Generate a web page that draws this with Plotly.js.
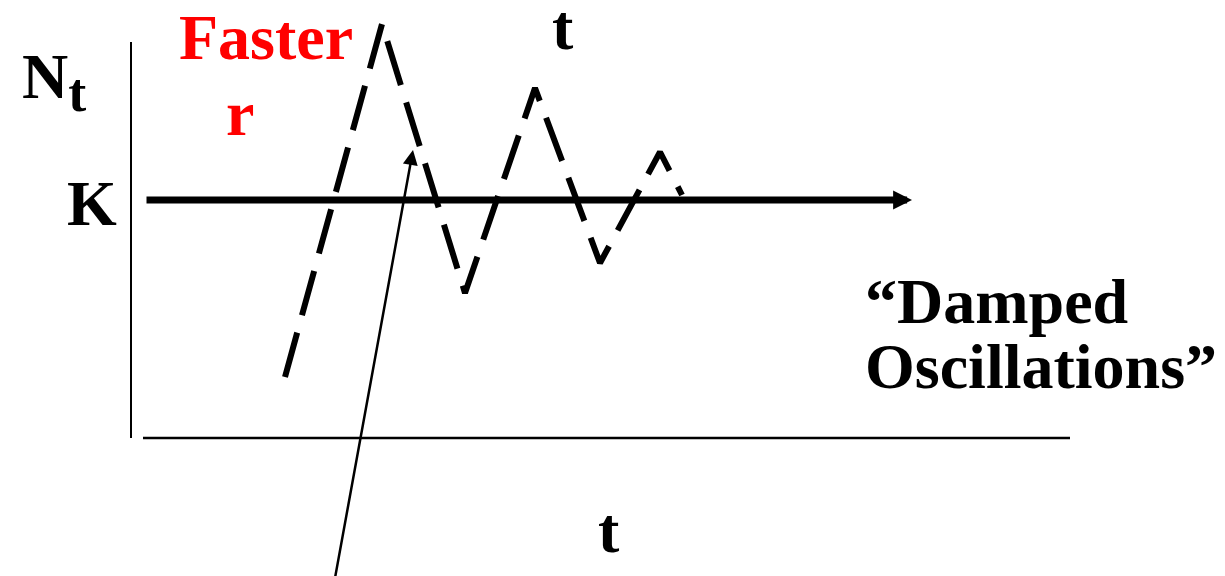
<!DOCTYPE html>
<html>
<head>
<meta charset="utf-8">
<script src="https://cdn.plot.ly/plotly-3.0.1.min.js"></script>
<style>
html,body{margin:0;padding:0;background:#fff;}
#chart{width:1225px;height:576px;}
</style>
</head>
<body>
<div id="chart"></div>
<script>
// Damped oscillation path (time t, population N), in chart units
var tValues = [285, 382, 465, 535, 600, 660, 682];
var nValues = [199, 552, 283, 488, 313, 424, 381];
// Carrying capacity K and its arrow extent
var kLevel = 376;
var kStart = 145;
var kEnd = 912;
// Axis extents
var axisOriginT = 131;
var axisTopN = 534;
var axisBaseN = 138;
var axisEndT = 1070;
// Pointer arrow (tail -> tip)
var pointerT = [335, 413];
var pointerN = [-2, 426];

var FONT = 'Liberation Serif, Times New Roman, serif';

var traces = [{
  x: tValues,
  y: nValues,
  mode: 'lines',
  line: {color: '#000', width: 6, dash: '46px,18px'},
  hoverinfo: 'skip',
  showlegend: false
}];

function txt(text, x, y, xanchor, color) {
  return {
    text: '<b>' + text + '</b>', x: x, y: y, xref: 'x', yref: 'y',
    xanchor: xanchor || 'center', yanchor: 'middle', showarrow: false,
    font: {family: FONT, size: 64, color: color || '#000'}
  };
}

var annotations = [
  // K arrow
  {x: kEnd, y: kLevel, ax: kStart, ay: kLevel, xref: 'x', yref: 'y', axref: 'x', ayref: 'y',
   text: '', showarrow: true, arrowhead: 2, arrowwidth: 7, arrowsize: 0.54, arrowcolor: '#000', standoff: 0},
  // pointer arrow
  {x: pointerT[1], y: pointerN[1], ax: pointerT[0], ay: pointerN[0], xref: 'x', yref: 'y', axref: 'x', ayref: 'y',
   text: '', showarrow: true, arrowhead: 2, arrowwidth: 2.5, arrowsize: 1.2, arrowcolor: '#000', standoff: 0},
  txt('Faster', 266, 576 - 37, 'center', '#ff0000'),
  txt('r', 240, 576 - 113, 'center', '#ff0000'),
  txt('t', 563, 576 - 27),
  txt('N<sub><span style="font-size:54px">t</span></sub>', 20, 576 - 82, 'left'),
  txt('K', 119, 576 - 203, 'right'),
  txt('\u201CDamped', 863, 576 - 301, 'left'),
  txt('Oscillations\u201D', 863, 576 - 366, 'left'),
  txt('t', 609, 576 - 530)
];

var shapes = [
  {type: 'line', xref: 'x', yref: 'y', x0: axisOriginT, x1: axisOriginT, y0: axisBaseN, y1: axisTopN,
   line: {color: '#000', width: 2}},
  {type: 'line', xref: 'x', yref: 'y', x0: 143, x1: axisEndT, y0: axisBaseN, y1: axisBaseN,
   line: {color: '#000', width: 2.5}}
];

var layout = {
  width: 1225, height: 576,
  margin: {l: 0, r: 0, t: 0, b: 0},
  paper_bgcolor: '#fff', plot_bgcolor: '#fff',
  xaxis: {range: [0, 1225], visible: false, fixedrange: true},
  yaxis: {range: [0, 576], visible: false, fixedrange: true},
  annotations: annotations,
  shapes: shapes,
  showlegend: false
};

Plotly.newPlot('chart', traces, layout, {displayModeBar: false, staticPlot: true});
</script>
</body>
</html>
